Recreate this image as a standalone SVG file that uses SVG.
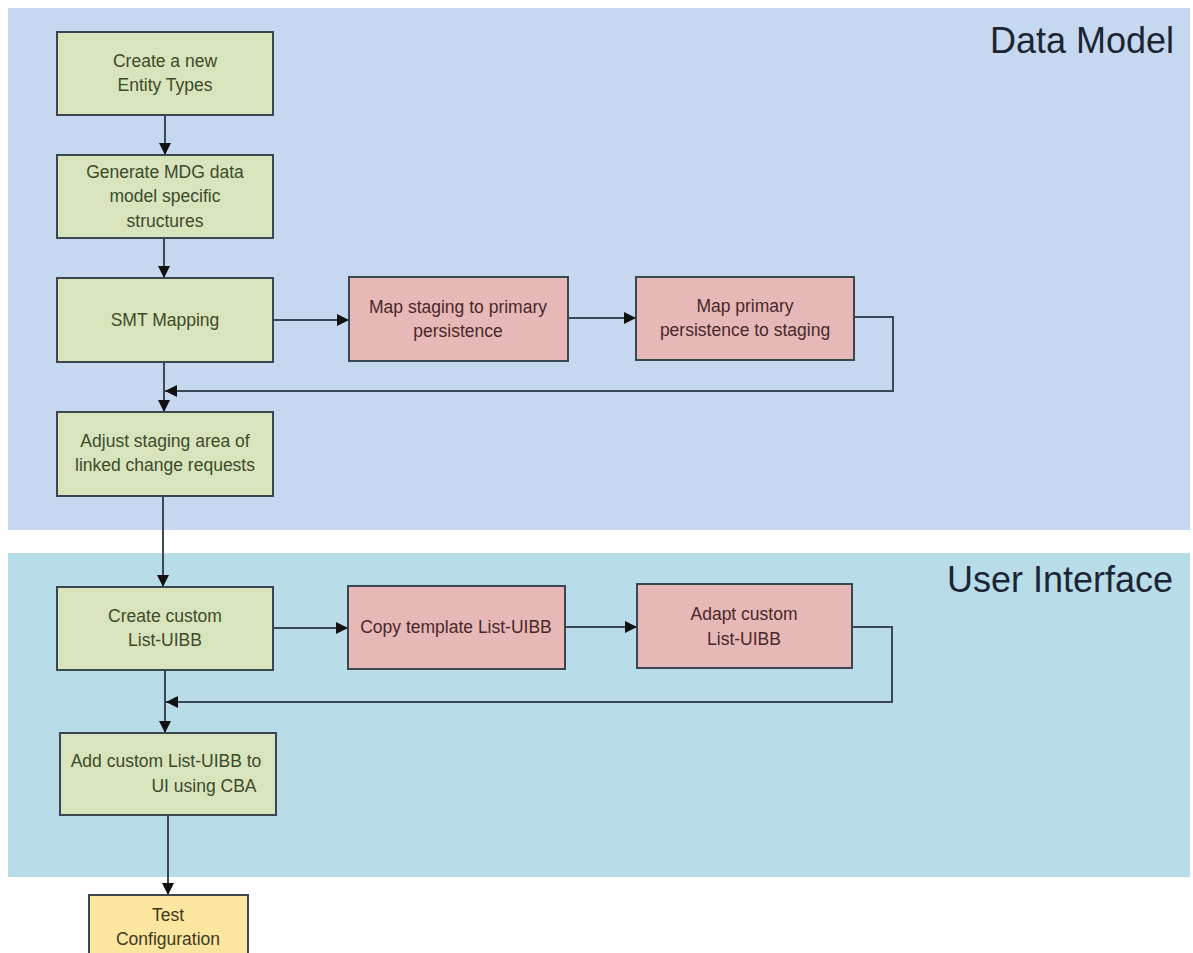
<svg xmlns="http://www.w3.org/2000/svg" width="1193" height="953" viewBox="0 0 1193 953">
<style>
.lane-dm{fill:#c6d8f0}
.lane-ui{fill:#b8dce8}
.title{font-family:"Liberation Sans",Arial,sans-serif;font-size:36px;fill:#1c2633;text-anchor:end}
.box{stroke:#3c4651;stroke-width:2}
.green{fill:#d8e4bc}
.red{fill:#e6b8b7}
.yellow{fill:#fce6a0}
.t{font-family:"Liberation Sans",Arial,sans-serif;font-size:17.5px;text-anchor:middle}
.tg{fill:#3d4a2b}
.tr{fill:#4a2828}
.ty{fill:#3d3a22}
.conn{fill:none;stroke:#3a4858;stroke-width:2}
</style>
<defs>
<marker id="arrow" markerUnits="userSpaceOnUse" markerWidth="13" markerHeight="13" refX="12" refY="6.5" orient="auto">
<path d="M0,0.5 L12,6.5 L0,12.5 z" fill="#111"/>
</marker>
</defs>
<rect width="1193" height="953" fill="#ffffff"/>
<g id="lane-data-model">
<rect class="lane-dm" x="8" y="8" width="1182" height="522"/>
<text class="title" x="1174" y="53">Data Model</text>
</g>
<g id="lane-user-interface">
<rect class="lane-ui" x="8" y="553" width="1182" height="324"/>
<text class="title" x="1173" y="592">User Interface</text>
</g>
<g id="connectors">
<line class="conn" x1="165" y1="115" x2="165" y2="155" marker-end="url(#arrow)"/>
<line class="conn" x1="164" y1="238" x2="164" y2="278" marker-end="url(#arrow)"/>
<line class="conn" x1="273" y1="320" x2="349" y2="320" marker-end="url(#arrow)"/>
<line class="conn" x1="568" y1="318" x2="636" y2="318" marker-end="url(#arrow)"/>
<polyline class="conn" points="854,317 893,317 893,391 165,391" marker-end="url(#arrow)"/>
<line class="conn" x1="164" y1="362" x2="164" y2="412" marker-end="url(#arrow)"/>
<line class="conn" x1="163" y1="496" x2="163" y2="587" marker-end="url(#arrow)"/>
<line class="conn" x1="273" y1="628" x2="348" y2="628" marker-end="url(#arrow)"/>
<line class="conn" x1="565" y1="627" x2="637" y2="627" marker-end="url(#arrow)"/>
<polyline class="conn" points="852,627 892,627 892,702 166,702" marker-end="url(#arrow)"/>
<line class="conn" x1="165" y1="670" x2="165" y2="733" marker-end="url(#arrow)"/>
<line class="conn" x1="168" y1="815" x2="168" y2="895" marker-end="url(#arrow)"/>
</g>
<g id="create-entity-types">
<rect class="box green" x="57" y="32" width="216" height="83"/>
<text class="t tg" x="165" y="67">Create a new</text>
<text class="t tg" x="165" y="91">Entity Types</text>
</g>
<g id="generate-mdg">
<rect class="box green" x="57" y="155" width="216" height="83"/>
<text class="t tg" x="165" y="178">Generate MDG  data</text>
<text class="t tg" x="165" y="202">model specific</text>
<text class="t tg" x="165" y="227">structures</text>
</g>
<g id="smt-mapping">
<rect class="box green" x="57" y="278" width="216" height="84"/>
<text class="t tg" x="165" y="326">SMT  Mapping</text>
</g>
<g id="map-staging-to-primary">
<rect class="box red" x="349" y="277" width="219" height="84"/>
<text class="t tr" x="458" y="313">Map  staging to primary</text>
<text class="t tr" x="458" y="337">persistence</text>
</g>
<g id="map-primary-to-staging">
<rect class="box red" x="636" y="277" width="218" height="83"/>
<text class="t tr" x="745" y="312">Map  primary</text>
<text class="t tr" x="745" y="336">persistence to staging</text>
</g>
<g id="adjust-staging-area">
<rect class="box green" x="57" y="412" width="216" height="84"/>
<text class="t tg" x="165" y="447">Adjust staging area of</text>
<text class="t tg" x="165" y="471">linked change requests</text>
</g>
<g id="create-custom-list-uibb">
<rect class="box green" x="57" y="587" width="216" height="83"/>
<text class="t tg" x="165" y="622">Create custom</text>
<text class="t tg" x="165" y="646">List-UIBB</text>
</g>
<g id="copy-template-list-uibb">
<rect class="box red" x="348" y="586" width="217" height="83"/>
<text class="t tr" x="456" y="633">Copy template List-UIBB</text>
</g>
<g id="adapt-custom-list-uibb">
<rect class="box red" x="637" y="584" width="215" height="84"/>
<text class="t tr" x="744" y="620">Adapt custom</text>
<text class="t tr" x="744" y="645">List-UIBB</text>
</g>
<g id="add-custom-list-uibb">
<rect class="box green" x="60" y="733" width="216" height="82"/>
<text class="t tg" x="166" y="767">Add custom List-UIBB to</text>
<text class="t tg" x="204" y="792">UI using CBA</text>
</g>
<g id="test-configuration">
<rect class="box yellow" x="89" y="895" width="159" height="80"/>
<text class="t ty" x="168" y="921">Test</text>
<text class="t ty" x="168" y="945">Configuration</text>
</g>
</svg>
